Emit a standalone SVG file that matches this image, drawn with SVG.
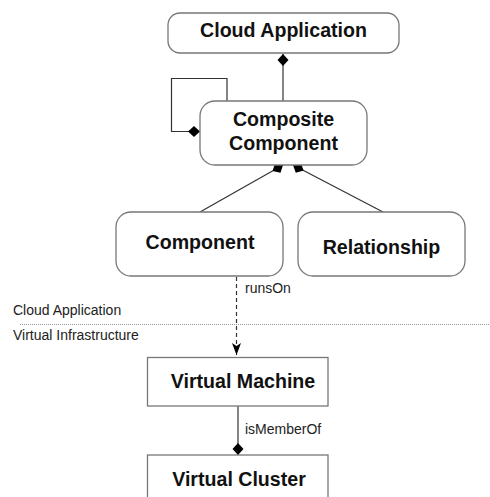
<svg xmlns="http://www.w3.org/2000/svg" width="490" height="497" viewBox="0 0 490 497">
<style>
.box{fill:#fff;stroke:#777;stroke-width:1.3}
.t{font-family:"Liberation Sans",Arial,sans-serif;font-weight:bold;font-size:19.6px;fill:#111;text-anchor:middle}
.s{font-family:"Liberation Sans",Arial,sans-serif;font-size:14px;fill:#222}
.ln{fill:none;stroke:#333;stroke-width:1.2}
</style>
<defs>
<marker id="dia" markerUnits="userSpaceOnUse" markerWidth="14" markerHeight="14" viewBox="-13 -7 14 14" refX="0" refY="0" orient="auto">
<path d="M0,0 L-6,-5.5 L-12,0 L-6,5.5 Z" fill="#000"/>
</marker>
<marker id="arr" markerUnits="userSpaceOnUse" markerWidth="14" markerHeight="14" viewBox="-13 -7 14 14" refX="0" refY="0" orient="auto">
<path d="M0,0 L-12,-4.5 L-9,0 L-12,4.5 Z" fill="#000"/>
</marker>
</defs>
<rect x="0" y="0" width="490" height="497" fill="#fff"/>
<g id="swimlane">
<line x1="20" y1="324.5" x2="490" y2="324.5" stroke="#999" stroke-width="1" stroke-dasharray="1 1"/>
<text class="s" x="13" y="315">Cloud Application</text>
<text class="s" x="13" y="340">Virtual Infrastructure</text>
</g>
<g id="connectors">
<path class="ln" d="M283,101 V54" marker-end="url(#dia)"/>
<path class="ln" d="M227,101 V78.5 H171.5 V131.5 H200" marker-end="url(#dia)"/>
<path class="ln" d="M200,212 L283,165" marker-end="url(#dia)"/>
<path class="ln" d="M383,212 L293,165" marker-end="url(#dia)"/>
<path class="ln" d="M236.5,277 V355" stroke-dasharray="4 3" marker-end="url(#arr)"/>
<text class="s" x="245" y="293">runsOn</text>
<path class="ln" d="M238,406 V455" marker-end="url(#dia)"/>
<text class="s" x="245" y="434">isMemberOf</text>
</g>
<g id="cloud-application">
<rect class="box" x="168" y="13" width="231" height="40" rx="12"/>
<text class="t" x="283.5" y="37">Cloud Application</text>
</g>
<g id="composite-component">
<rect class="box" x="200" y="101" width="167" height="64" rx="15"/>
<text class="t" x="283.5" y="126">Composite</text>
<text class="t" x="283.5" y="150">Component</text>
</g>
<g id="component">
<rect class="box" x="116" y="212" width="167" height="64" rx="15"/>
<text class="t" x="200" y="249">Component</text>
</g>
<g id="relationship">
<rect class="box" x="298" y="212" width="167" height="64" rx="15"/>
<text class="t" x="381.5" y="254">Relationship</text>
</g>
<g id="virtual-machine">
<rect class="box" x="147.5" y="357.5" width="180.5" height="48.5"/>
<text class="t" x="243" y="388">Virtual Machine</text>
</g>
<g id="virtual-cluster">
<rect class="box" x="147.5" y="455" width="180.5" height="60"/>
<text class="t" x="239" y="486">Virtual Cluster</text>
</g>
</svg>
